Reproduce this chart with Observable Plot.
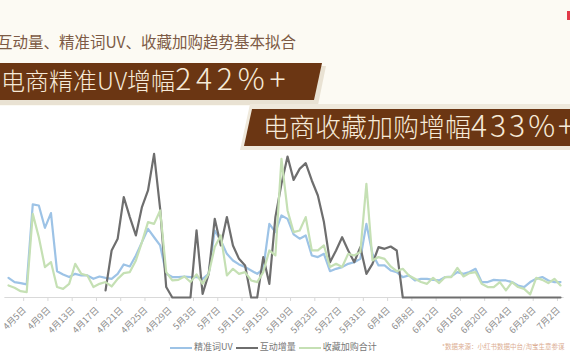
<!DOCTYPE html>
<html><head><meta charset="utf-8">
<script src="https://cdn.jsdelivr.net/npm/d3@7"></script>
<script src="https://cdn.jsdelivr.net/npm/@observablehq/plot@0.6"></script>
<style>
html,body{margin:0;padding:0;}
body{width:570px;height:360px;position:relative;overflow:hidden;background:#ffffff;font-family:"Noto Sans CJK SC","Noto Sans",sans-serif;}
#topbg{position:absolute;left:0;top:0;width:570px;height:106px;background:#fcfaf3;}
#chart{position:absolute;left:0;top:0;}
#title{position:absolute;left:-3px;top:31px;font-size:15.5px;line-height:20px;color:#7d5a45;white-space:nowrap;}
.shadow{position:absolute;background:#e9e2d3;}
.banner{position:absolute;background:#6b3613;color:#f6ead8;white-space:nowrap;font-weight:300;}
.banner .cn{font-size:24px;line-height:24px;}
.banner .num{font-size:30px;line-height:24px;letter-spacing:4.8px;}
#b1sh{left:0;top:66px;width:326px;height:39px;clip-path:polygon(0 0,100% 0,calc(100% - 8px) 100%,0 100%);}
#b1{left:0;top:63px;width:322px;height:37px;clip-path:polygon(0 0,100% 0,calc(100% - 8px) 100%,0 100%);}
#b1 .t{position:absolute;left:1px;top:2px;}
#b2sh{left:240px;top:104px;width:330px;height:46px;clip-path:polygon(10px 0,100% 0,100% 100%,0 100%);background:#efe9dc;}
#b2{left:244px;top:109px;width:326px;height:37px;clip-path:polygon(8px 0,100% 0,100% 100%,0 100%);}
#b2 .t{position:absolute;left:19px;top:2px;}
#b2 .cn{font-size:26px;line-height:26px;}
#b2 .num{letter-spacing:3px;line-height:26px;}
#redmark{position:absolute;left:567px;top:11px;width:3px;height:9px;background:#e23a48;}
#legend{position:absolute;left:170px;top:340px;font-size:9px;line-height:14px;color:#777;white-space:nowrap;}
#legend span.sw{display:inline-block;width:22px;height:2px;vertical-align:middle;margin-right:2px;}
#legend span.it{margin-right:3px;}
#source{position:absolute;left:442px;top:342px;font-size:6.5px;line-height:9px;color:#dcae93;white-space:nowrap;}
</style></head>
<body>
<div id="topbg"></div>
<div id="chart"></div>
<div id="title">互动量、精准词UV、收藏加购趋势基本拟合</div>
<div class="shadow" id="b1sh"></div>
<div class="banner" id="b1"><div class="t"><span class="cn">电商精准UV增幅</span><span class="num">242%+</span></div></div>
<div class="shadow" id="b2sh"></div>
<div class="banner" id="b2"><div class="t"><span class="cn">电商收藏加购增幅</span><span class="num">433%+</span></div></div>
<div id="redmark"></div>
<div id="legend"></div>
<div id="source">*数据来源：小红书数据中台/淘宝生意参谋</div>
<script>
// ---- data (index values; daily from 4月2日) ----
const startDay = [2023, 4, 2];
const seriesNames = ["精准词UV", "互动增量", "收藏加购合计"];
const seriesColors = ["#9dc3e6", "#6e6e6e", "#c5e0b4"];

const uvValues = [13.4, 10.5, 9.8, 8.9, 63.3, 62.6, 47.4, 57.4, 17.9, 15.7, 13.9, 16.1, 15, 15, 12.7, 14.3,
  13.4, 12.7, 16.1, 22.5, 21.1, 28.6, 37.7, 46.7, 41, 35.4, 16.1, 13.9, 13.9, 14.3, 13.9, 13.9,
  12.7, 16.1, 45.6, 38.8, 29.7, 25.2, 22.5, 20.7, 18.4, 16.1, 19.5, 50.1, 44.5, 55.8, 53.5, 42.9,
  40, 42.2, 28.6, 27.5, 29.7, 17.9, 19.5, 20.7, 22.9, 24, 26.3, 50.1, 29.7, 21.8,
  21.8, 18.4, 17.3, 13.9, 15, 11.6, 12.7, 12.7, 12, 11.6, 13.9, 14.3, 17.3, 16.1, 17.3, 19.5,
  10.5, 10.5, 12, 11.6, 11.6, 10.5, 8.2, 7.1, 10.5, 12.7, 13.9, 11.6, 10.5, 10.5];

const interactValues = [null, null, null, null, null, null, null, null, null, null, null, null, null, null, null, null,
  4.8, 32, 40, 68.3, 54.7, 42.2, 61.5, 72.8, 97.7, 60.3, 7.1, 0, 0, 0, 0, 45.6,
  2.5, 16.1, 53.5, 35.4, 54.7, 35.4, 26.3, 21.8, 0, 0, 27.5, 9.3, 54.7, 77.3, 95.9, 80,
  87.5, 91.4, 79.6, 69.4, 51.3, 24, 32, 41, 32, 24, 34.3, 16.1, 22.9, 34.3,
  33.1, 34.7, 32, 0, 0, 0, 0, 0, 0, 0, 0, 0, 0, 0, 0, 0,
  0, 0, 0, 0, 0, 0, 0, 0, 0, 0, 0, 0, 0, 0];

const cartValues = [8.2, 6.6, 4.3, 3.7, 56.9, 41, 20.7, 24.1, 7.1, 5.9, 9.3, 22.9, 16.1, 15, 7.1, 9.3,
  10.5, 7.5, 12.7, 16.6, 17.3, 25.2, 37.7, 51.3, 50.1, 59.2, 17.3, 11.6, 12, 14.3, 10.5, 15.7,
  9.3, 16.1, 34.3, 42.2, 15, 19.5, 16.1, 17.3, 11.6, 10.5, 17.3, 32, 28.6, 94.3, 59.2, 44.5,
  45.6, 54.7, 32, 32, 35.4, 20.7, 22.9, 20.7, 29.7, 28.6, 30.9, 77.3, 25.2, 27.5,
  26.3, 21.1, 17.9, 19.5, 15, 12.7, 10.5, 9.3, 13.4, 9.8, 13.9, 13.9, 20.2, 14.3, 16.6, 17.3,
  9.3, 7.1, 7.1, 10.5, 4.8, 10.5, 7.1, 5.9, 2.1, 13.4, 12, 9.8, 12.7, 8.2];

const tickLabels = ["4月5日", "4月9日", "4月13日", "4月17日", "4月21日", "4月25日", "4月29日",
  "5月3日", "5月7日", "5月11日", "5月15日", "5月19日", "5月23日", "5月27日", "5月31日",
  "6月4日", "6月8日", "6月12日", "6月16日", "6月20日", "6月24日", "6月28日", "7月2日"];

// ---- build ----
const DAY = 864e5;
const day0 = Date.UTC(startDay[0], startDay[1] - 1, startDay[2]);
const dates = uvValues.map((_, i) => new Date(day0 + i * DAY));
const rows = [];
[uvValues, interactValues, cartValues].forEach((arr, s) =>
  arr.forEach((v, i) => rows.push({date: dates[i], value: v, series: seriesNames[s]})));
const tickDates = tickLabels.map(t => {
  const m = /(\d+)月(\d+)日/.exec(t);
  return new Date(Date.UTC(startDay[0], +m[1] - 1, +m[2]));
});
const first = dates[0], last = dates[dates.length - 1];

const chart = Plot.plot({
  width: 570, height: 360,
  marginLeft: 8, marginRight: 10, marginTop: 150, marginBottom: 63,
  style: {background: "transparent", fontFamily: "'Noto Sans CJK SC', sans-serif"},
  x: {type: "utc", domain: [first, last], axis: null},
  y: {domain: [0, 100], axis: null},
  color: {domain: seriesNames, range: seriesColors},
  marks: [
    Plot.ruleY([0], {x1: new Date(+first - 0.6 * DAY), x2: new Date(+last + 0.6 * DAY), stroke: "#d9d9d9", strokeWidth: 1}),
    Plot.ruleX(tickDates, {x: d => new Date(+d - 0.5 * DAY), y1: 0, y2: -2.7, stroke: "#d9d9d9", strokeWidth: 1}),
    Plot.text(tickDates, {x: d => d, y: 0, text: (d, i) => tickLabels[i], rotate: -45, textAnchor: "end",
      dx: -2, dy: 11, fontSize: 9, fill: "#8c8c8c"}),
    Plot.lineY(rows, {x: "date", y: "value", z: "series", stroke: "series", strokeWidth: 2.2,
      strokeLinejoin: "round", strokeLinecap: "round"})
  ]
});
document.getElementById("chart").appendChild(chart);

// legend
const lg = document.getElementById("legend");
seriesNames.forEach((n, i) => {
  const sw = document.createElement("span");
  sw.className = "sw"; sw.style.background = seriesColors[i];
  const t = document.createElement("span");
  t.className = "it"; t.textContent = n;
  lg.appendChild(sw); lg.appendChild(t);
});
</script>
</body></html>
